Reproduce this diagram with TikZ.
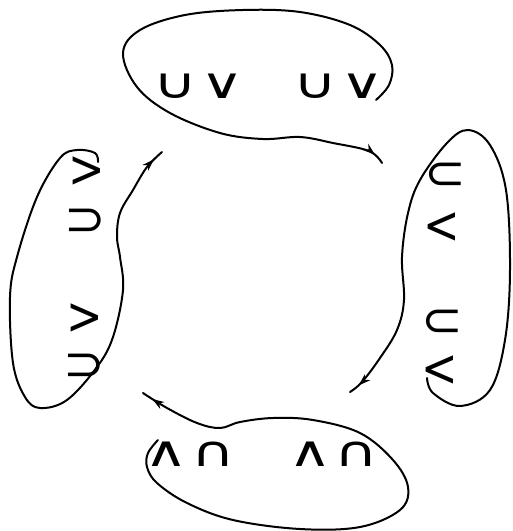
\documentclass[tikz,border=0pt]{standalone}
\usepackage{graphicx}
\usepackage{fontspec}
\newfontfamily\symfont{DejaVu Sans}
\usetikzlibrary{arrows.meta,decorations.markings}
\newcommand{\wideglyph}[1]{\scalebox{1.3}[0.92]{#1}}
\newcommand{\tallglyph}[1]{\scalebox{0.95}[1.15]{#1}}
\newcommand{\setglyph}[1]{\scalebox{1.08}[1.05]{#1}}
\tikzset{
  sym/.style={inner sep=0pt, font=\symfont\fontsize{46}{46}\selectfont},
  loopline/.style={line width=2pt, line cap=round, line join=round},
  midarrow/.style={postaction={decorate}, decoration={markings,
     mark=at position -11pt with {\arrow{Stealth[length=12pt,width=8pt]}}}}
}
\begin{document}
\begin{tikzpicture}[x=1pt,y=-1pt]
\useasboundingbox (0,0) rectangle (513,531);
\fill[white] (0,0) rectangle (513,531);
% top group
\node[sym] (t1) at (175,86) {\wideglyph{∪}};
\node[sym] (t2) at (222,86) {\wideglyph{∨}};
\node[sym] (t3) at (315,86) {\wideglyph{∪}};
\node[sym] (t4) at (362,86) {\wideglyph{∨}};
% right group
\node[sym] (r1) at (445,176) {\setglyph{⊂}};
\node[sym] (r2) at (442,228) {\tallglyph{<}};
\node[sym] (r3) at (442,323) {\setglyph{⊂}};
\node[sym] (r4) at (440,371) {\tallglyph{<}};
% bottom group
\node[sym] (b1) at (166,454) {\wideglyph{∧}};
\node[sym] (b2) at (213,454) {\wideglyph{∩}};
\node[sym] (b3) at (310,454) {\wideglyph{∧}};
\node[sym] (b4) at (356,454) {\wideglyph{∩}};
% left group
\node[sym] (l1) at (87,172) {\tallglyph{>}};
\node[sym] (l2) at (85,222) {\setglyph{⊃}};
\node[sym] (l3) at (85,319) {\tallglyph{>}};
\node[sym] (l4) at (84,367) {\setglyph{⊃}};
% arrow ends
\coordinate (topEnd) at (382,163);
\coordinate (rightEnd) at (350,392);
\coordinate (bottomEnd) at (143,393);
\coordinate (leftEnd) at (162,152);
% top loop with arrow to right group
\draw[loopline, midarrow] plot[smooth, tension=0.6] coordinates {
 (376,100) (389,85) (392,65) (380,45) (350,25) (300,12) (243,10) (185,15) (140,30)
 (123,53) (137,87) (170,113) (220,133) (263,139) (300,137) (333,143) (369,151) (382,163)};
% right loop with arrow to bottom group
\draw[loopline, midarrow] plot[smooth, tension=0.6] coordinates {
 (427,378) (433,393) (460,406) (490,390) (505,340) (510,270) (506,190) (490,145) (468,130)
 (447,143) (420,180) (408,213) (402,257) (404,300) (397,330) (380,358) (362,382) (350,392)};
% bottom loop with arrow to left group
\draw[loopline, midarrow] plot[smooth, tension=0.6] coordinates {
 (158,440) (148,453) (147,467) (157,483) (187,503) (233,520) (300,529) (360,527) (400,510)
 (408,487) (393,460) (360,433) (313,420) (273,418) (240,422) (220,428) (197,423) (167,408) (143,393)};
% left loop with arrow to top group
\draw[loopline, midarrow] plot[smooth, tension=0.6] coordinates {
 (98,162) (95,153) (77,150) (60,158) (37,197) (17,257) (10,297) (13,363) (25,397) (40,408)
 (67,400) (97,367) (113,337) (123,290) (120,257) (117,237) (120,213) (133,190) (147,167) (162,152)};
\end{tikzpicture}
\end{document}
